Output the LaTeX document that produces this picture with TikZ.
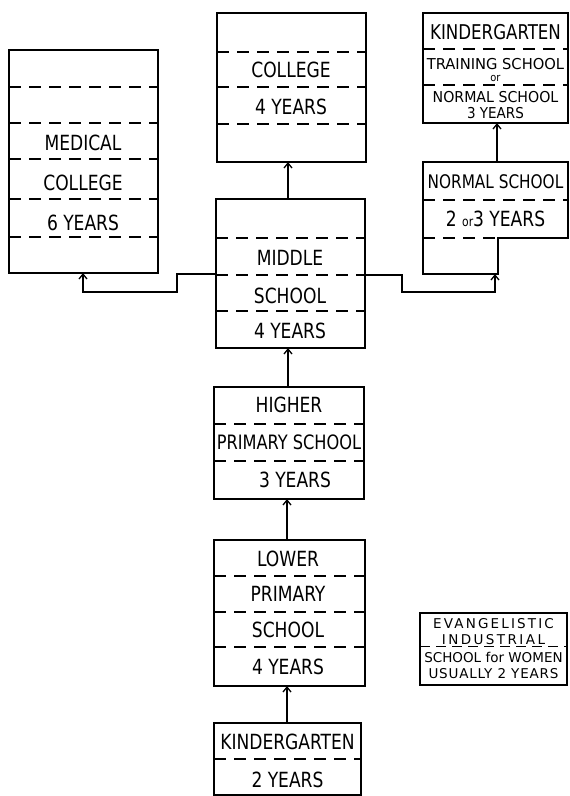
\documentclass[tikz,border=0pt]{standalone}
\usepackage{fontspec}
\usepackage{graphicx}
\setmainfont{DejaVu Sans Condensed}
\newfontfamily\evfont{DejaVu Sans}
\usetikzlibrary{arrows.meta}
\newcommand\tl[1]{\scalebox{1}[1.1]{#1}}
\newcommand\tw[2]{\scalebox{#1}[1]{#2}}
\begin{document}
\begin{tikzpicture}[x=1pt,y=-1pt,
  box/.style={draw, line width=2.2pt, inner sep=0pt, outer sep=0pt, anchor=north west},
  sep/.style={dash pattern=on 12pt off 8pt, line width=1.1pt},
  lbl/.style={inner sep=0pt, font=\fontsize{19}{20}\selectfont},
  mlbl/.style={inner sep=0pt, font=\fontsize{15}{16}\selectfont},
  slbl/.style={inner sep=0pt, font=\evfont\fontsize{13.5}{14}\selectfont},
  conn/.style={line width=1.3pt, -{Straight Barb[length=5pt,width=8pt,line width=1.3pt]}},
]
\useasboundingbox (0,0) rectangle (570,796);

% Medical college
\node[box, minimum width=149pt, minimum height=223pt] (med) at (9,50) {};
\foreach \yy in {87,123,159,199,237} \draw[sep] (med.west |- 0,\yy) -- (med.east |- 0,\yy);
\node[lbl] (medA) at (83,143) {\tl{MEDICAL}};
\node[lbl] (medB) at (83,183) {\tl{COLLEGE}};
\node[lbl] (medC) at (83,223) {\tl{6 YEARS}};

% College
\node[box, minimum width=149pt, minimum height=149pt] (col) at (217,13) {};
\foreach \yy in {52,87,124} \draw[sep] (col.west |- 0,\yy) -- (col.east |- 0,\yy);
\node[lbl] (colA) at (291,70) {\tl{COLLEGE}};
\node[lbl] (colB) at (291,107) {\tl{4 YEARS}};

% Kindergarten training school
\node[box, minimum width=145pt, minimum height=110pt] (kt) at (423,13) {};
\foreach \yy in {49,85} \draw[sep] (kt.west |- 0,\yy) -- (kt.east |- 0,\yy);
\node[lbl, font=\fontsize{18.5}{19}\selectfont] (ktA) at (495.5,32) {\tl{KINDERGARTEN}};
\node[mlbl] (ktB) at (495.5,64) {\tw{1.09}{TRAINING SCHOOL}};
\node[inner sep=0pt, font=\fontsize{11}{11}\selectfont] (ktC) at (495.5,78) {or};
\node[mlbl] (ktD) at (495.5,97.5) {\tw{1.05}{NORMAL SCHOOL}};
\node[mlbl] (ktE) at (495.5,113) {3 YEARS};

% Normal school (stepped outline)
\node[inner sep=0pt, outer sep=0pt, minimum width=145pt, minimum height=112pt, anchor=north west] (norm) at (423,162) {};
\draw[line width=2.2pt, line join=miter] (norm.north west) -- (norm.north east) -- (568,238) -- (498,238) -- (498,274) -- (norm.south west) -- cycle;
\draw[sep] (norm.west |- 0,200) -- (norm.east |- 0,200);
\draw[sep] (norm.west |- 0,238) -- (497,238);
\node[inner sep=0pt, font=\fontsize{17}{18}\selectfont] (normA) at (495.5,182) {\tl{NORMAL SCHOOL}};
\node[lbl] (normB) at (495.5,219) {\tl{2 {\fontsize{12}{12}\selectfont or}3 YEARS}};

% Middle school
\node[box, minimum width=149pt, minimum height=149pt] (mid) at (216,199) {};
\foreach \yy in {238,275,311} \draw[sep] (mid.west |- 0,\yy) -- (mid.east |- 0,\yy);
\node[lbl] (midA) at (290,258) {\tl{MIDDLE}};
\node[lbl] (midB) at (290,296) {\tl{SCHOOL}};
\node[lbl] (midC) at (290,331) {\tl{4 YEARS}};

% Higher primary school
\node[box, minimum width=150pt, minimum height=112pt] (hps) at (214,387) {};
\foreach \yy in {424,461} \draw[sep] (hps.west |- 0,\yy) -- (hps.east |- 0,\yy);
\node[lbl] (hpsA) at (289,405) {\tl{HIGHER}};
\node[inner sep=0pt, font=\fontsize{18}{19}\selectfont] (hpsB) at (289,442) {\tl{PRIMARY SCHOOL}};
\node[lbl] (hpsC) at (295,480) {\tl{3 YEARS}};

% Lower primary school
\node[box, minimum width=151pt, minimum height=146pt] (lps) at (214,540) {};
\foreach \yy in {576,612,647} \draw[sep] (lps.west |- 0,\yy) -- (lps.east |- 0,\yy);
\node[lbl] (lpsA) at (288,559) {\tl{LOWER}};
\node[lbl] (lpsB) at (288,594) {\tl{PRIMARY}};
\node[lbl] (lpsC) at (288,630) {\tl{SCHOOL}};
\node[lbl] (lpsD) at (288,667) {\tl{4 YEARS}};

% Kindergarten
\node[box, minimum width=147pt, minimum height=72pt] (kg) at (214,723) {};
\draw[sep] (kg.west |- 0,759) -- (kg.east |- 0,759);
\node[lbl] (kgA) at (287.5,742) {\tl{KINDERGARTEN}};
\node[lbl] (kgB) at (287.5,780) {\tl{2 YEARS}};

% Evangelistic industrial school
\node[box, line width=1.8pt, minimum width=147pt, minimum height=72pt] (evs) at (420,613) {};
\draw[dash pattern=on 10pt off 6pt, line width=1pt] (evs.west |- 0,646) -- (evs.east |- 0,646);
\node[slbl] (evsA) at (493.5,624) {\addfontfeature{LetterSpace=16}EVANGELISTIC};
\node[slbl] (evsB) at (493.5,640) {\addfontfeature{LetterSpace=18}INDUSTRIAL};
\node[slbl] (evsC) at (493.5,657) {SCHOOL for WOMEN};
\node[slbl] (evsD) at (493.5,674) {\addfontfeature{LetterSpace=6}USUALLY 2 YEARS};

% Connectors
\draw[conn] (mid.north -| 288,0) -- (col.south -| 288,0);
\draw[conn] (hps.north -| 288,0) -- (mid.south -| 288,0);
\draw[conn] (lps.north -| 287,0) -- (hps.south -| 287,0);
\draw[conn] (kg.north -| 287,0) -- (lps.south -| 287,0);
\draw[conn] (norm.north -| 497,0) -- (kt.south -| 497,0);
\draw[conn] (mid.west |- 0,274) -- (177,274) -- (177,292) -- (83,292) -- (med.south -| 83,0);
\draw[conn] (mid.east |- 0,275) -- (402,275) -- (402,292) -- (495,292) -- (norm.south -| 495,0);
\end{tikzpicture}
\end{document}
